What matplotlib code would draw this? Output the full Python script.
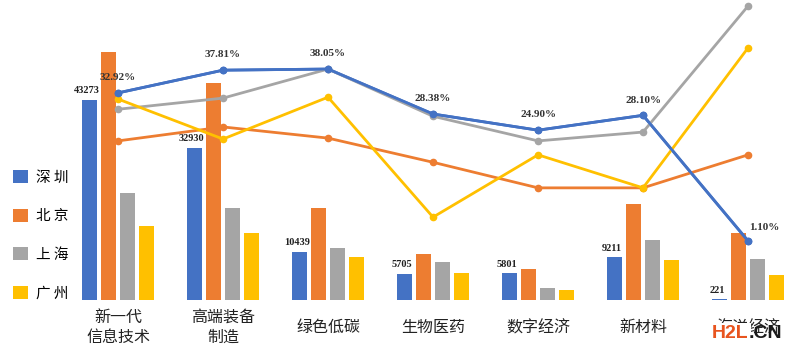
import matplotlib.pyplot as plt
import numpy as np

plt.rcParams['font.family'] = ['Noto Sans CJK SC', 'DejaVu Sans']

categories = ["新一代\n信息技术", "高端装备\n制造", "绿色低碳", "生物医药", "数字经济", "新材料", "海洋经济"]
cities = ["深 圳", "北 京", "上 海", "广 州"]
colors = ["#4472C4", "#ED7D31", "#A5A5A5", "#FFC000"]

# bar values (enterprise counts), Shenzhen labelled, others
bars_sz = [43273, 32930, 10439, 5705, 5801, 9211, 221]
bars_bj = [53600, 46900, 19900, 9900, 6700, 20700, 14500]
bars_sh = [23100, 19900, 11200, 8200, 2600, 13000, 8900]
bars_gz = [16000, 14500, 9300, 5800, 2200, 8600, 5400]

# line values (%), Shenzhen labelled, others estimated
line_sz = [32.92, 37.81, 38.05, 28.38, 24.90, 28.10, 1.10]
line_bj = [22.6, 25.6, 23.2, 18.0, 12.5, 12.5, 19.6]
line_sh = [29.4, 31.8, 38.05, 27.9, 22.6, 24.5, 51.6]
line_gz = [31.6, 23.0, 32.0, 6.2, 19.6, 12.5, 42.6]

bars = [bars_sz, bars_bj, bars_sh, bars_gz]
lines = [line_sz, line_bj, line_sh, line_gz]

fig = plt.figure(figsize=(8, 3.56), dpi=100)
ax = fig.add_axes([0, 0, 1, 1])
x = np.arange(len(categories))
offsets = [-0.27, -0.09, 0.09, 0.27]
for vals, off, c, name in zip(bars, offsets, colors, cities):
    ax.bar(x + off, vals, width=0.14, color=c, label=name)
ax.set_xlim(-1.124, 6.495)
ax.set_ylim(-12100, 64800)
ax.axis("off")

for xi, v in zip(x, bars_sz):
    ax.annotate(str(v), (xi + offsets[0], v), xytext=(-2, 3), textcoords="offset points",
                ha="center", va="bottom", fontsize=7.5, fontweight="bold",
                family="Liberation Serif", color="#222222")

for xi, lab in zip(x, categories):
    ax.text(xi, 0.08, lab, transform=ax.get_xaxis_transform(), ha="center", va="center",
            fontsize=11.5, color="#222222", linespacing=1.25)

ax2 = ax.twinx()
ax2.set_position([0, 0, 1, 1])
ax2.set_ylim(-23.66, 52.9)
ax2.axis("off")
for vals, c in zip(lines, colors):
    ax2.plot(x, vals, color=c, lw=2, marker="o", ms=4.5)
# redraw blue on top
ax2.plot(x, line_sz, color=colors[0], lw=2, marker="o", ms=4.5)

for i, v in enumerate(line_sz):
    dx, dy = (0, 11) if i < len(line_sz) - 1 else (12, 9.5)
    ax2.annotate(f"{v:.2f}%", (x[i], v), xytext=(dx, dy), textcoords="offset points",
                 ha="center", va="center", fontsize=8, fontweight="bold",
                 family="Liberation Serif", color="#333333")

ax.legend(loc="upper left", bbox_to_anchor=(13 / 800, 1 - 170 / 356),
          bbox_transform=fig.transFigure, frameon=False, borderpad=0, borderaxespad=0,
          handlelength=1, handleheight=1, handletextpad=0.55, labelspacing=1.65,
          prop={"family": "Noto Sans CJK SC", "size": 10.5})

fig.text(712 / 800, 1 - 334 / 356, "H2L", color="#E8541E", fontsize=14, fontweight="bold",
         family="Liberation Sans", va="center", ha="left",
         bbox=dict(facecolor="white", edgecolor="none", pad=2))
fig.text(749 / 800, 1 - 334 / 356, ".CN", color="#1a1a1a", fontsize=14, fontweight="bold",
         family="Liberation Sans", va="center", ha="left")

fig.savefig("out.png", dpi=100)
